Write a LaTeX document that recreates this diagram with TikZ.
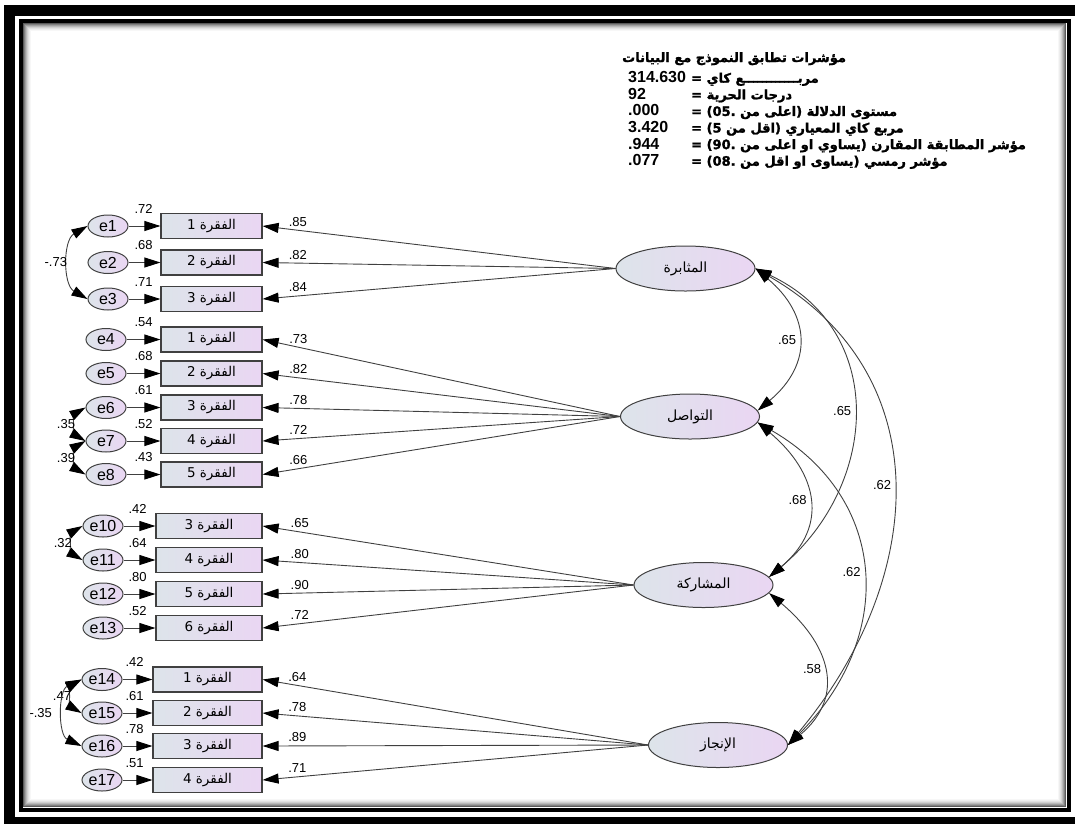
\documentclass[tikz,border=0pt]{standalone}
\usepackage{fontspec}
\setmainfont{Liberation Sans}
\newfontfamily\arabicfont[Script=Arabic,BoldFeatures={FakeBold=1.6}]{DejaVu Sans}
\TeXXeTstate=1
\usepackage{tikz}
\usetikzlibrary{arrows.meta}
\usetikzlibrary{shapes.geometric}
\definecolor{boxleft}{HTML}{DDE4EA}
\definecolor{boxright}{HTML}{EAD6F3}
\definecolor{rim}{HTML}{404040}
\tikzstyle{item}=[draw=rim,line width=1.2pt,left color=boxleft,right color=boxright,minimum width=101pt,minimum height=25pt,inner sep=0pt,font=\fontsize{13.5}{13.5}\arabicfont]
\tikzstyle{err}=[ellipse,draw=rim,line width=1pt,left color=boxleft,right color=boxright,minimum width=40pt,minimum height=22pt,inner sep=0pt,font=\fontsize{16}{16}\selectfont]
\tikzstyle{latent}=[ellipse,draw=rim,line width=1pt,left color=boxleft,right color=boxright,minimum width=139pt,minimum height=45pt,inner sep=0pt,font=\fontsize{14}{14}\arabicfont]
\tikzstyle{regline}=[draw=black!75,line width=0.9pt,-{Triangle[length=16pt,width=10pt,black]}]
\tikzstyle{covline}=[draw=black!75,line width=0.9pt,{Triangle[length=16pt,width=10pt,black]}-{Triangle[length=16pt,width=10pt,black]}]
\tikzstyle{coef}=[font=\fontsize{13}{13}\selectfont,inner sep=1.5pt]
\tikzstyle{fitval}=[anchor=base west,font=\fontsize{16}{16}\bfseries,inner sep=0pt]
\tikzstyle{fitname}=[anchor=base west,font=\fontsize{13}{13}\bfseries\arabicfont,inner sep=0pt]

\begin{document}
\begin{tikzpicture}[x=1pt,y=1pt]
  \useasboundingbox (0,0) rectangle (1075,-823);
  \clip (0,0) rectangle (1075,-823);

  % frame
  \draw[line width=11pt] (9.5,-10.5) rectangle (1082,-822.5);
  \draw[line width=4.5pt] (21,-21) rectangle (1069,-810);
  \foreach \k/\g in {1/65,2/50,3/38,4/28,5/19,6/12,7/7,8/3}{
    \draw[black!\g,line width=1pt] (22.5+\k,-22.5-\k) rectangle (1066.5-\k,-807.5+\k);
  }

  % fit indices
  \node[fitname] (title) at (622,-62) {\beginR مؤشرات تطابق النموذج مع البيانات\endR};
  \foreach \val/\txt [count=\n] in {314.630/{مربــــــــــــع كاي},
      92/{درجات الحرية},
      .000/{مستوى الدلالة (اعلى من .05)},
      3.420/{مربع كاي المعياري (اقل من 5)},
      .944/{مؤشر المطابقة المقارن (يساوي او اعلى من .90)},
      .077/{مؤشر رمسي (يساوى او اقل من .08)}}{
    \node[fitval] (val\n) at (628,{-66.1-16.6*\n}) {\val};
    \node[fitname] (txt\n) at (691,{-66.1-16.6*\n}) {\beginR\txt\ =\endR};
  }

  % factors
  \node[latent] (L1) at (685.5,-268.5) {\beginR المثابرة\endR};
  \node[latent] (L2) at (690,-416.5) {\beginR التواصل\endR};
  \node[latent] (L3) at (703.5,-585) {\beginR المشاركة\endR};
  \node[latent] (L4) at (718,-745) {\beginR الإنجاز\endR};

  % first factor
  \foreach \i/\k/\y/\lam/\rsq in {1/1/226/.85/.72,2/2/262.5/.82/.68,3/3/299/.84/.71}{
    \node[item] (a\i) at (211.5,-\y) {\beginR الفقرة \i\endR};
    \node[err] (e\k) at (108,-\y) {e\k};
    \draw[regline] (e\k) -- (a\i);
    \draw[regline] (L1.west) -- (a\i.east) node[coef,pos=0.9,above=2pt] {\lam};
    \node[coef,anchor=south east] at ([xshift=-6pt,yshift=-2pt]a\i.north west) {\rsq};
  }

  % second factor
  \foreach \i/\k/\y/\lam/\rsq in {1/4/339.5/.73/.54,2/5/373.5/.82/.68,3/6/407.5/.78/.61,4/7/441/.72/.52,5/8/474.5/.66/.43}{
    \node[item] (b\i) at (211.5,-\y) {\beginR الفقرة \i\endR};
    \node[err] (e\k) at (106,-\y) {e\k};
    \draw[regline] (e\k) -- (b\i);
    \draw[regline] (L2.west) -- (b\i.east) node[coef,pos=0.9,above=2pt] {\lam};
    \node[coef,anchor=south east] at ([xshift=-6pt,yshift=-2pt]b\i.north west) {\rsq};
  }

  % third factor
  \foreach \i/\k/\y/\lam/\rsq in {3/10/526/.65/.42,4/11/560/.80/.64,5/12/594/.90/.80,6/13/628/.72/.52}{
    \node[item,minimum width=106pt] (c\i) at (209,-\y) {\beginR الفقرة \i\endR};
    \node[err] (e\k) at (103,-\y) {e\k};
    \draw[regline] (e\k) -- (c\i);
    \draw[regline] (L3.west) -- (c\i.east) node[coef,pos=0.9,above=2pt] {\lam};
    \node[coef,anchor=south east] at ([xshift=-7pt,yshift=-2pt]c\i.north west) {\rsq};
  }

  % fourth factor
  \foreach \i/\k/\y/\lam/\rsq in {1/14/679.5/.64/.42,2/15/713/.78/.61,3/16/746/.89/.78,4/17/780/.71/.51}{
    \node[item,minimum width=109pt] (d\i) at (207.5,-\y) {\beginR الفقرة \i\endR};
    \node[err] (e\k) at (102,-\y) {e\k};
    \draw[regline] (e\k) -- (d\i);
    \draw[regline] (L4.west) -- (d\i.east) node[coef,pos=0.91,above=2pt] {\lam};
    \node[coef,anchor=south east] at ([xshift=-7pt,yshift=-2pt]d\i.north west) {\rsq};
  }

  % error covariances
  \draw[covline] (e1.west) to[out=210,in=150] node[coef,left] {-.73} (e3.west);
  \draw[covline] (e6.west) to[out=210,in=150] node[coef,left] {.35} (e7.west);
  \draw[covline] (e7.west) to[out=210,in=150] node[coef,left] {.39} (e8.west);
  \draw[covline] (e10.west) to[out=210,in=150] node[coef,left] {.32} (e11.west);
  \draw[covline] (e14.west) to[out=210,in=150] node[coef,left] {.47} (e15.west);
  \draw[covline] (e14.west) to[out=205,in=155] node[coef,left=10pt] {-.35} (e16.west);

  % factor covariances
  \draw[covline] (L1.east) to[out=-40,in=40,looseness=1.3] node[coef,left] {.65} (L2.5);
  \draw[covline] (L1.east) to[out=-25,in=40,looseness=1.2] node[coef,left] {.65} (L3.7);
  \draw[covline] (L1.east) to[out=-30,in=50,looseness=1.15] node[coef,left] {.62} (L4.east);
  \draw[covline] (L2.-5) to[out=-40,in=40,looseness=1.3] node[coef,left] {.68} (L3.7);
  \draw[covline] (L2.-5) to[out=-30,in=45,looseness=1.2] node[coef,left] {.62} (L4.east);
  \draw[covline] (L3.-7) to[out=-40,in=40,looseness=1.3] node[coef,left] {.58} (L4.east);
\end{tikzpicture}
\end{document}
